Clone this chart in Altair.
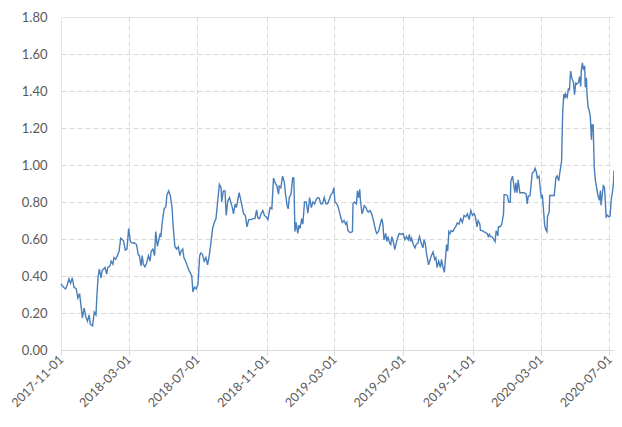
import altair as alt
import pandas as pd

start_date = "2017-11-01"

# days after 2017-11-01
day_offsets = [
    0, 4, 8, 11, 14, 17, 20, 23, 27, 30, 33, 36, 38, 41, 44, 47, 50, 52, 56, 59,
    62, 64, 66, 68, 71, 73, 78, 81, 83, 87, 89, 92, 94, 97, 100, 103, 106, 111, 114, 117,
    120, 123, 126, 130, 134, 137, 139, 142, 144, 146, 149, 152, 155, 158, 160, 163, 166, 168, 171, 173,
    176, 177, 180, 183, 186, 188, 191, 194, 197, 199, 202, 205, 208, 211, 213, 216, 218, 221, 224, 227,
    229, 232, 234, 237, 240, 243, 246, 248, 251, 254, 257, 260, 263, 266, 269, 272, 275, 278, 281, 284,
    285, 288, 291, 293, 296, 299, 302, 304, 306, 309, 311, 313, 316, 318, 321, 324, 327, 330, 333, 337,
    340, 344, 347, 349, 352, 355, 358, 361, 364, 367, 371, 374, 377, 380, 383, 386, 387, 390, 393, 396,
    398, 401, 403, 405, 408, 411, 413, 415, 417, 420, 422, 424, 427, 429, 432, 435, 438, 441, 444, 447,
    450, 453, 456, 458, 461, 464, 467, 470, 473, 476, 479, 482, 484, 486, 489, 491, 494, 496, 499, 502,
    505, 507, 509, 513, 517, 518, 521, 524, 526, 528, 530, 531, 534, 536, 538, 541, 543, 545, 548, 550,
    552, 555, 558, 560, 563, 566, 569, 571, 573, 576, 578, 580, 583, 585, 587, 590, 592, 594, 597, 600,
    604, 607, 610, 613, 616, 618, 620, 622, 625, 628, 630, 633, 636, 639, 642, 644, 646, 649, 652, 654,
    657, 660, 663, 665, 667, 670, 673, 675, 677, 680, 682, 684, 686, 688, 690, 692, 695, 698, 700, 703,
    706, 709, 712, 715, 718, 721, 724, 727, 730, 733, 735, 738, 740, 743, 744, 747, 750, 753, 756, 758,
    760, 762, 765, 768, 770, 772, 775, 776, 779, 782, 785, 786, 789, 792, 794, 797, 798, 801, 804, 805,
    807, 809, 811, 814, 817, 821, 825, 827, 829, 832, 834, 836, 839, 841, 843, 845, 848, 850, 852, 854,
    856, 858, 860, 862, 863, 866, 867, 870, 873, 875, 878, 880, 883, 885, 888, 890, 892, 894, 895, 898,
    900, 902, 904, 906, 909, 911, 913, 915, 918, 920, 922, 923, 925, 927, 929, 930, 932, 933, 935, 937,
    939, 941, 942, 944, 946, 948, 950, 952, 955, 957, 958, 960, 962, 964, 965, 967, 969, 972, 974, 976,
    978, 980, 981,
]

values = [
    0.358, 0.34, 0.33, 0.35, 0.385, 0.36, 0.39, 0.34, 0.33, 0.28, 0.305, 0.226, 0.174, 0.226, 0.18, 0.156, 0.19, 0.14, 0.13, 0.205,
    0.19, 0.31, 0.40, 0.437, 0.39, 0.43, 0.446, 0.41, 0.446, 0.455, 0.48, 0.464, 0.50, 0.49, 0.51, 0.534, 0.604, 0.59, 0.54, 0.546,
    0.657, 0.587, 0.578, 0.58, 0.57, 0.516, 0.51, 0.455, 0.51, 0.464, 0.45, 0.47, 0.51, 0.48, 0.534, 0.546, 0.51, 0.64, 0.56, 0.587,
    0.63, 0.61, 0.70, 0.763, 0.775, 0.84, 0.86, 0.833, 0.77, 0.666, 0.56, 0.546, 0.557, 0.51, 0.534, 0.546, 0.50, 0.48, 0.455, 0.43,
    0.42, 0.40, 0.314, 0.34, 0.33, 0.355, 0.51, 0.525, 0.516, 0.48, 0.50, 0.46, 0.51, 0.58, 0.657, 0.69, 0.71, 0.807, 0.895, 0.877,
    0.80, 0.86, 0.86, 0.727, 0.807, 0.824, 0.79, 0.77, 0.736, 0.79, 0.77, 0.80, 0.85, 0.824, 0.78, 0.736, 0.727, 0.666, 0.705, 0.705,
    0.71, 0.71, 0.757, 0.715, 0.71, 0.736, 0.754, 0.727, 0.72, 0.705, 0.77, 0.763, 0.93, 0.903, 0.886, 0.842, 0.886, 0.877, 0.94, 0.912,
    0.85, 0.78, 0.763, 0.824, 0.842, 0.93, 0.93, 0.64, 0.69, 0.63, 0.675, 0.657, 0.71, 0.68, 0.80, 0.80, 0.74, 0.824, 0.77, 0.80,
    0.79, 0.815, 0.824, 0.82, 0.79, 0.79, 0.824, 0.79, 0.79, 0.815, 0.84, 0.85, 0.877, 0.80, 0.79, 0.78, 0.745, 0.72, 0.69, 0.70,
    0.68, 0.69, 0.645, 0.634, 0.64, 0.79, 0.80, 0.79, 0.86, 0.824, 0.868, 0.815, 0.736, 0.754, 0.78, 0.77, 0.754, 0.745, 0.754, 0.745,
    0.727, 0.69, 0.648, 0.63, 0.64, 0.675, 0.71, 0.68, 0.596, 0.63, 0.587, 0.613, 0.578, 0.57, 0.613, 0.578, 0.543, 0.57, 0.604, 0.63,
    0.625, 0.63, 0.596, 0.613, 0.596, 0.625, 0.587, 0.604, 0.57, 0.552, 0.57, 0.578, 0.613, 0.578, 0.552, 0.596, 0.578, 0.51, 0.46, 0.48,
    0.51, 0.53, 0.49, 0.50, 0.446, 0.48, 0.446, 0.49, 0.455, 0.42, 0.49, 0.57, 0.534, 0.64, 0.63, 0.645, 0.64, 0.657, 0.666, 0.687,
    0.68, 0.71, 0.69, 0.727, 0.72, 0.736, 0.705, 0.754, 0.727, 0.736, 0.72, 0.666, 0.70, 0.68, 0.648, 0.645, 0.64, 0.634, 0.63, 0.613,
    0.625, 0.613, 0.61, 0.596, 0.585, 0.645, 0.617, 0.666, 0.666, 0.68, 0.736, 0.84, 0.84, 0.833, 0.80, 0.80, 0.912, 0.94, 0.877, 0.85,
    0.903, 0.85, 0.92, 0.85, 0.85, 0.85, 0.845, 0.79, 0.833, 0.833, 0.895, 0.956, 0.965, 0.982, 0.965, 0.93, 0.94, 0.877, 0.824, 0.833,
    0.754, 0.675, 0.65, 0.64, 0.72, 0.747, 0.835, 0.835, 0.835, 0.835, 0.933, 0.942, 0.915, 0.96, 1.02, 1.287, 1.384, 1.36, 1.384, 1.366,
    1.41, 1.407, 1.508, 1.472, 1.446, 1.38, 1.442, 1.437, 1.446, 1.478, 1.425, 1.513, 1.552, 1.513, 1.535, 1.42, 1.472, 1.39, 1.313, 1.295,
    1.26, 1.136, 1.216, 1.216, 0.986, 0.915, 0.88, 0.844, 0.809, 0.862, 0.782, 0.835, 0.888, 0.88, 0.835, 0.72, 0.729, 0.72, 0.724, 0.809,
    0.85, 0.90, 0.97,
]

x_tick_dates = [(2017, 11), (2018, 3), (2018, 7), (2018, 11), (2019, 3),
                (2019, 7), (2019, 11), (2020, 3), (2020, 7)]
y_ticks = [0.0, 0.2, 0.4, 0.6, 0.8, 1.0, 1.2, 1.4, 1.6, 1.8]

df = pd.DataFrame({
    "date": pd.Timestamp(start_date) + pd.to_timedelta(day_offsets, unit="D"),
    "value": values,
})

label_font = "Lato"
label_color = "#595959"
grid_color = "#D9D9D9"

x_axis = alt.Axis(
    values=[alt.DateTime(year=y, month=m, date=1) for y, m in x_tick_dates],
    format="%Y-%m-%d",
    labelAngle=-45,
    labelAlign="right",
    labelBaseline="middle",
    labelFont=label_font,
    labelFontSize=12.5,
    labelColor=label_color,
    labelPadding=2,
    labelOverlap=False,
    labelFlush=False,
    labelBound=False,
    grid=True,
    gridColor=grid_color,
    gridDash=[5, 3],
    gridWidth=1,
    gridOpacity={"condition": {"test": "datum.value <= time(datetime(2017, 10, 2))", "value": 0}, "value": 1},
    domainColor=grid_color,
    tickColor=grid_color,
    tickSize=5,
    title=None,
)

y_axis = alt.Axis(
    values=y_ticks,
    format=".2f",
    labelFont=label_font,
    labelFontSize=13,
    labelColor=label_color,
    labelPadding=14,
    grid=True,
    gridColor=grid_color,
    gridDash=[5, 3],
    gridWidth=1,
    gridOpacity={"condition": {"test": "datum.value <= 0 || datum.value >= 1.8", "value": 0}, "value": 1},
    domain=False,
    ticks=False,
    tickSize=0,
    title=None,
)

chart = alt.Chart(df).mark_line(color="#4A7EBB", strokeWidth=1.4).encode(
    x=alt.X("date:T",
            scale=alt.Scale(domain=[alt.DateTime(year=2017, month=11, date=1),
                                    alt.DateTime(year=2020, month=7, date=9)], nice=False),
            axis=x_axis),
    y=alt.Y("value:Q", scale=alt.Scale(domain=[0, 1.8], nice=False, zero=True), axis=y_axis),
).properties(
    width=553,
    height=333,
    autosize=alt.AutoSizeParams(type="none"),
    padding={"left": 53, "top": 9, "right": 0, "bottom": 62},
    background="white",
).configure_view(
    stroke="#EAE5DC",
    strokeWidth=1,
)

chart.save("out.html", embed_options={"renderer": "svg", "actions": False})
